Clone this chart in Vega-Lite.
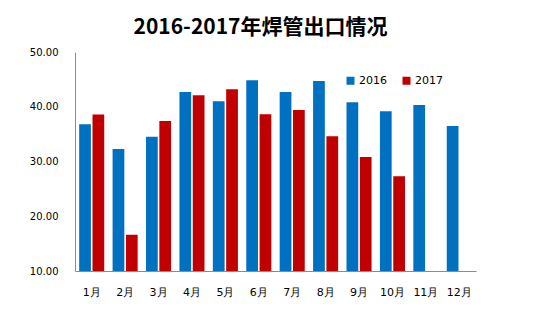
{
  "$schema": "https://vega.github.io/schema/vega-lite/v6.json",
  "width": 401,
  "height": 219,
  "autosize": {"type": "none"},
  "padding": {"left": 75, "top": 52, "right": 62, "bottom": 60},
  "background": "white",
  "title": {
    "text": "2016-2017年焊管出口情况",
    "font": "Noto Sans CJK SC",
    "fontSize": 21,
    "fontWeight": "bold",
    "color": "#000000",
    "anchor": "middle",
    "dx": -15,
    "offset": 9
  },
  "data": {
    "values": [
      {"month": "1月", "year": "2016", "value": 36.8},
      {"month": "1月", "year": "2017", "value": 38.6},
      {"month": "2月", "year": "2016", "value": 32.3},
      {"month": "2月", "year": "2017", "value": 16.6},
      {"month": "3月", "year": "2016", "value": 34.5},
      {"month": "3月", "year": "2017", "value": 37.4},
      {"month": "4月", "year": "2016", "value": 42.7},
      {"month": "4月", "year": "2017", "value": 42.1},
      {"month": "5月", "year": "2016", "value": 41.0},
      {"month": "5月", "year": "2017", "value": 43.2},
      {"month": "6月", "year": "2016", "value": 44.85},
      {"month": "6月", "year": "2017", "value": 38.65},
      {"month": "7月", "year": "2016", "value": 42.7},
      {"month": "7月", "year": "2017", "value": 39.4},
      {"month": "8月", "year": "2016", "value": 44.7},
      {"month": "8月", "year": "2017", "value": 34.6},
      {"month": "9月", "year": "2016", "value": 40.8},
      {"month": "9月", "year": "2017", "value": 30.8},
      {"month": "10月", "year": "2016", "value": 39.2},
      {"month": "10月", "year": "2017", "value": 27.3},
      {"month": "11月", "year": "2016", "value": 40.3},
      {"month": "12月", "year": "2016", "value": 36.5}
    ]
  },
  "mark": {"type": "bar", "clip": true},
  "encoding": {
    "x": {
      "field": "month",
      "type": "ordinal",
      "sort": ["1月","2月","3月","4月","5月","6月","7月","8月","9月","10月","11月","12月"],
      "scale": {"paddingInner": 0.25, "paddingOuter": 0.125},
      "axis": {
        "title": null,
        "labelAngle": 0,
        "ticks": false,
        "labelPadding": 15,
        "labelFont": "DejaVu Sans",
        "labelFontSize": 11,
        "labelColor": "#000000",
        "domainColor": "#8c8c8c",
        "domainWidth": 1,
        "grid": false
      }
    },
    "xOffset": {
      "field": "year",
      "type": "nominal",
      "scale": {"paddingInner": 0.12}
    },
    "y": {
      "field": "value",
      "type": "quantitative",
      "scale": {"domain": [10, 50], "zero": false, "nice": false},
      "axis": {
        "title": null,
        "values": [10, 20, 30, 40, 50],
        "format": ".2f",
        "ticks": false,
        "grid": false,
        "labelPadding": 17,
        "labelFont": "DejaVu Sans",
        "labelFontSize": 10,
        "labelColor": "#000000",
        "domainColor": "#8c8c8c",
        "domainWidth": 1
      }
    },
    "color": {
      "field": "year",
      "type": "nominal",
      "scale": {"domain": ["2016", "2017"], "range": ["#0070C0", "#C00000"]},
      "legend": {
        "title": null,
        "orient": "none",
        "direction": "horizontal",
        "legendX": 270,
        "legendY": 23,
        "symbolType": "square",
        "symbolSize": 64,
        "symbolStrokeWidth": 0,
        "labelFont": "DejaVu Sans",
        "labelFontSize": 11,
        "labelColor": "#000000",
        "columnPadding": 14,
        "labelOffset": 3
      }
    }
  },
  "config": {
    "view": {"stroke": null}
  }
}
